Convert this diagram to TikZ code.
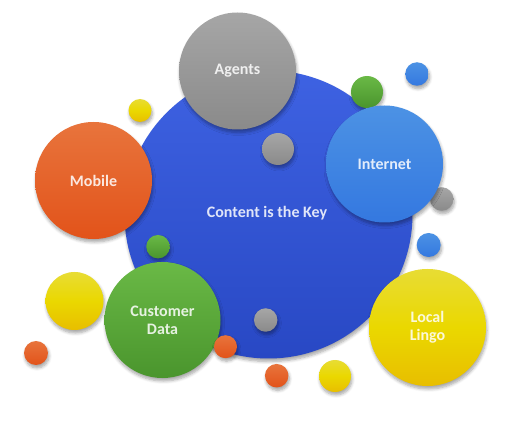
\documentclass[tikz,border=0pt]{standalone}
\usepackage{fontspec}
\setmainfont{Carlito}
\usetikzlibrary{shadows,shadows.blur}
\definecolor{bigT}{HTML}{3E62E2}
\definecolor{bigB}{HTML}{2848C4}
\definecolor{grayT}{HTML}{A6A6A6}
\definecolor{grayB}{HTML}{8A8A8A}
\definecolor{bluT}{HTML}{4C92E4}
\definecolor{bluB}{HTML}{3478E0}
\definecolor{oraT}{HTML}{E8743C}
\definecolor{oraB}{HTML}{E2531A}
\definecolor{grnT}{HTML}{6AB946}
\definecolor{grnB}{HTML}{4A952D}
\definecolor{yelT}{HTML}{E8DC34}
\definecolor{yelM}{HTML}{EAD800}
\definecolor{yelB}{HTML}{E8BE00}
\tikzset{
  ball/.style={circle, inner sep=0pt, minimum size=#1,
    blur shadow={shadow xshift=1pt, shadow yshift=-3pt, shadow blur steps=6, shadow opacity=35, shadow blur radius=3pt}},
  lbl/.style={text=white, text opacity=0.85, align=center,
    font=\fontsize{16}{18}\selectfont\bfseries},
  bigball/.style={ball=#1, top color=bigT, bottom color=bigB},
  grayball/.style={ball=#1, top color=grayT, bottom color=grayB},
  blueball/.style={ball=#1, top color=bluT, bottom color=bluB},
  orangeball/.style={ball=#1, top color=oraT, bottom color=oraB},
  greenball/.style={ball=#1, top color=grnT, bottom color=grnB},
  yellowball/.style={ball=#1, top color=yelT, bottom color=yelB, middle color=yelM},
}
\begin{document}
\begin{tikzpicture}[x=1pt,y=-1pt]
\useasboundingbox (0,0) rectangle (523,425);
% main circle
\node[bigball=288pt] (big) at (268.5,214.5) {};
\node[lbl] (bigtxt) at (267,213.5) {Content is the Key};
% small circles behind satellites
\node[yellowball=23pt] (s1) at (140,110.5) {};
\node[greenball=32pt] (s2) at (367,92) {};
\node[blueball=23.5pt] (s3) at (417,74) {};
\node[grayball=32pt] (s4) at (278,149) {};
\node[grayball=23.5pt] (s5) at (441.7,199) {};
\node[blueball=24pt] (s6) at (428.7,245) {};
\node[greenball=23.5pt] (s7) at (158,246.7) {};
\node[yellowball=58pt] (s8) at (74.5,301) {};
\node[orangeball=24pt] (s9) at (36,353) {};
\node[grayball=23.5pt] (s10) at (265.7,320) {};
\node[orangeball=23.5pt] (s12) at (276.7,375.7) {};
\node[yellowball=32pt] (s13) at (335,376) {};
% satellites
\node[grayball=117pt] (agents) at (237.5,71) {};
\node[lbl] at (agents) {Agents};
\node[blueball=117pt] (internet) at (384.5,164) {};
\node[lbl] at (internet) {Internet};
\node[orangeball=117pt] (mobile) at (93.5,180.5) {};
\node[lbl] at (mobile) {Mobile};
\node[greenball=116pt] (cust) at (162.5,320) {};
\node[lbl] at (cust) {Customer\\Data};
\node[yellowball=117pt] (lingo) at (427.5,327.5) {};
\node[lbl] at (lingo) {Local\\Lingo};
\node[orangeball=23pt] (s11) at (225.5,346.7) {};
\end{tikzpicture}
\end{document}
